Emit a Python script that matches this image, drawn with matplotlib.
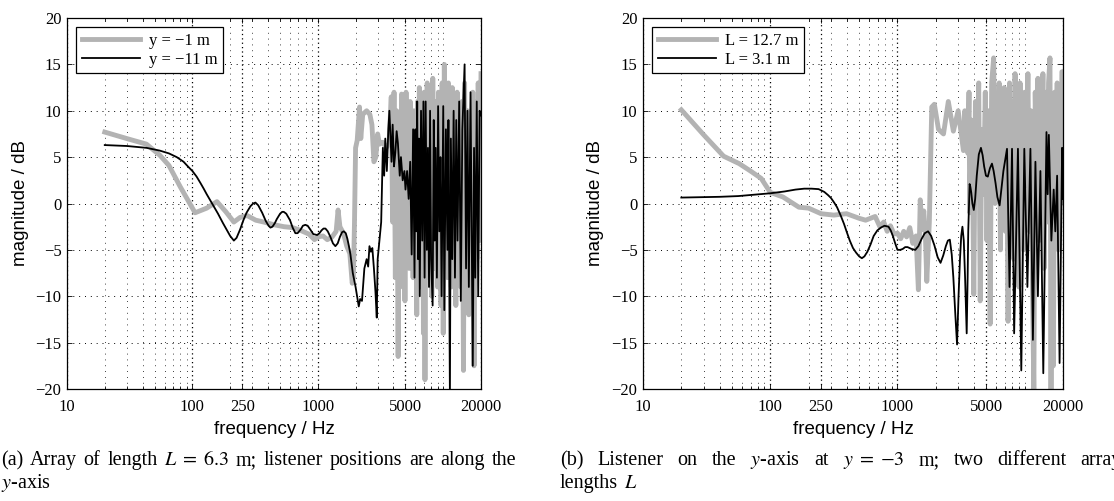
import numpy as np
import matplotlib.pyplot as plt
from matplotlib.ticker import FixedLocator, FixedFormatter, NullFormatter

plt.rcParams['font.family'] = ['Liberation Serif', 'DejaVu Serif']
plt.rcParams['mathtext.fontset'] = 'stix'

# (a) array L = 6.3 m, listener at y = -1 m (grey) and y = -11 m (black)
f_a1 = [20, 30, 43, 55, 65, 80, 105, 130, 157, 185, 214, 240, 273, 320, 371, 450, 537, 630, 728, 850,
        940, 1000, 1100, 1190, 1300, 1400, 1450, 1500, 1600, 1700, 1800, 1880, 1920, 1960, 2000, 2060,
        2150, 2200, 2280, 2450, 2600, 2700, 2800, 2900, 3000, 3100, 3300, 3500, 3700,
        3850, 3950, 4050, 4150, 4250, 4370, 4450, 4550, 4650, 4750, 4850, 4950, 5050, 5150, 5250, 5350,
        5450, 5550, 5650, 5750, 5850, 5950, 6050, 6150, 6250, 6350, 6450, 6550, 6650, 6750, 6850, 6950,
        7050, 7150, 7250, 7350, 7450, 7550, 7650, 7800, 7950, 8100, 8250, 8400, 8550, 8700, 8850, 9000,
        9150, 9300, 9450, 9600, 9800, 10000, 10200, 10400, 10600, 10800, 11000, 11200, 11400, 11600,
        11800, 12000, 12300, 12600, 12900, 13200, 13500, 13800, 14100, 14500, 14800, 15200, 15600,
        16000, 16400, 16800, 17200, 17600, 18000, 18500, 19000, 19500, 20000]
m_a1 = [7.7, 7.0, 6.4, 5.2, 4.1, 1.8, -1.0, -0.5, 0.2, -0.9, -2.0, -1.5, -1.3, -1.8, -2.0, -2.3, -2.5, -2.6,
        -2.9, -3.3, -3.9, -3.6, -3.5, -3.9, -3.6, -3.0, -0.7, -2.5, -3.2, -4.6, -5.4, -8.6, -8.0, -2.1,
        6.0, 6.8, 10.4, 7.0, 9.6, 10.0, 9.6, 8.5, 4.5, 5.0, 7.5, 6.4, 6.6, 6.0, 6.5,
        11.5, -2, 12, -8, 10, -16.5, 8, -6, 11.8, -9, 9, -10.5, 12, -4, 7, -7,
        11, -5, 8, -8, 10, -3, 6, -12, 11, -7, 12.5, -9, 9, -4, 10, -14,
        12, -19, 8, -6, 13, -8, 9, -5, 12, -10, 13.5, -7, 11, -3, 10, -9,
        12, -6, 8, -11, 13, -14, 15, -5, 11, -8, 13, -4, 10, -9,
        12.5, -6, 9, -11, 12, -5, 8, -9, 11, -18, 13, -8, 10,
        -12, 9, -7, 12, -17.5, 11, -6, 13, -4, 14]

f_a2 = [20, 30, 43, 55, 65, 75, 85, 92, 100, 108, 116, 123, 130, 138, 148, 160, 175, 189, 200, 214, 225,
        240, 255, 270, 290, 305, 318, 335, 360, 385, 405, 419, 435, 455, 470, 500, 520, 535, 560, 600,
        630, 662, 690, 730, 760, 795, 830, 870, 920, 988, 1030, 1070, 1110, 1150, 1200, 1260, 1320,
        1380, 1440, 1500, 1560, 1610, 1670, 1720, 1770, 1820, 1900, 2000,
        2120, 2175, 2250, 2350, 2450, 2520, 2580, 2650, 2720, 2800, 2880, 2950, 3000, 3100, 3200, 3300,
        3380, 3450, 3550, 3650, 3720, 3800, 3870, 3950, 4050, 4150, 4250, 4350, 4500, 4600, 4750, 4900,
        5000, 5150, 5300, 5450, 5600, 5750,
        5900, 6000, 6100, 6200, 6300, 6400, 6500, 6650, 6800, 6950, 7100, 7240, 7400, 7550, 7700, 7850,
        8000, 8230, 8400, 8550, 8700, 8900, 9100, 9300, 9500, 9700, 10000, 10200, 10500, 10800, 11000,
        11300, 11500, 11800, 12100, 12400, 12700, 13000, 13400, 13800, 14200, 14800, 15200, 15600,
        16000, 16500, 17200, 17600, 18000, 18500, 19000, 19500, 20000]
m_a2 = [6.3, 6.2, 6.0, 5.7, 5.4, 5.0, 4.5, 4.0, 3.5, 2.9, 2.2, 1.6, 1.0, 0.4, -0.3, -1.1, -2.1, -2.9,
        -3.5, -4.0, -3.7, -2.8, -1.8, -1.0, -0.3, 0.0, 0.1, -0.2, -1.0, -1.9, -2.4, -2.6, -2.5, -2.1,
        -1.7, -1.1, -0.9, -0.9, -1.1, -1.8, -2.6, -3.2, -3.2, -2.8, -2.4, -2.3, -2.4, -2.8, -3.3, -3.4,
        -3.2, -2.9, -2.7, -2.7, -3.0, -3.6, -4.3, -4.6, -4.3, -3.6, -3.1, -3.0, -3.2, -3.8, -4.6, -5.5,
        -7.5, -9.0,
        -11.1, -10.3, -10.5, -7, -6, -6.8, -4.6, -5.2, -4.8, -7, -9.5, -12.3, -6, -4,
        -2, 6, 3, 7, 3.5, 8, 10, 7, 4.5, 8.5, 4, 5.5, 7.8, 6.5, 3, 5, 2.5, 3.5, 1.5, 3.5, 0.5, 4.5, -5.5,
        8,
        -8, 8, -3, 11, -6, 7, -10, 10, -4, 11, -8, 11, -5, 6, -9, 10,
        -6, -11, 9, -4, 6, -8, 10.5, -3, 5, -10, 10.5, -11.5, 8, -5, 9,
        -21, 7, -6, 10, -8, 9, -4, 11, -10.5, 8, 15, -7, 10,
        -9, 12, -17.5, 6, -8, 11, -10, 10, 9.5]

# (b) listener at y = -3 m, L = 12.7 m (grey) and L = 3.1 m (black)
f_b1 = [20, 30, 43, 57, 70, 85, 100, 126, 168, 200, 251, 316, 398, 501, 562, 668, 727, 780, 830, 880,
        940, 1000, 1060, 1120, 1180, 1250, 1320, 1400, 1460, 1510, 1560, 1610, 1660, 1700, 1780, 1860,
        1950, 2100, 2300, 2510, 2750, 3000, 3300, 3380, 3580,
        3650, 3700, 3800, 3900, 3980, 4100, 4200, 4350, 4470, 4600, 4750, 4900, 5050, 5200, 5350, 5500,
        5700, 5850, 6000, 6150, 6300, 6450, 6600, 6750, 6900, 7050, 7200, 7400, 7600, 7800, 8000, 8200,
        8400, 8600, 8800, 9000, 9200, 9400, 9600, 9800, 10000, 10300, 10600, 10900, 11200, 11500,
        11800, 12100, 12400, 12700, 13000, 13300, 13600, 13900, 14200, 14500, 14800, 15100, 15400,
        15800, 16100, 16400, 16800, 17200, 17600, 18000, 18400, 18800, 19200, 19600, 20000]
m_b1 = [10.1, 7.4, 5.1, 4.3, 3.5, 2.7, 1.2, 0.7, -0.4, -0.5, -1.1, -1.25, -1.1, -1.6, -1.8, -1.4, -2.5,
        -2.0, -3.0, -2.4, -3.3, -3.2, -3.8, -3.0, -3.6, -2.6, -4.3, -3.5, -9.3, 0.4, -2.8, -0.8, -3.6,
        -8.4, -2.0, 10.4, 10.7, 8.0, 7.5, 11.0, 7.8, 10.0, 5.7, 10.0, 5.4,
        12, -1, 9, 2, -9.8, 11, 3, 13, -10.5, 8, 1, 12, -4, 10, -13, 13,
        15.7, 0, 11, 4, 13, -5, 10, 2, 12.5, -3, 9, -12.7, 13, 3, 11, -6,
        14, 1, 10, -9, 13, 4, 11, -5, 12, 2, 14, -3, 10, -8,
        -20.5, 12, 3, 13.5, -4, 11, 1, 14, -7, 9, 12, -2, 13,
        15.7, -20.5, 10, -17.5, 12, 2, 13, -5, 10, 0, 14.2, 14.2]

f_b2 = [20, 40, 56, 100, 130, 158, 185, 211, 240, 266, 285, 300, 318, 335, 358, 380, 400, 422, 447, 473,
        500, 525, 550, 580, 615, 650, 695, 740, 790, 850, 885, 920, 960, 1000, 1050, 1100, 1150, 1200,
        1290, 1380, 1460, 1550, 1640, 1740, 1840, 1950, 2070, 2180, 2290, 2400, 2490, 2580, 2670, 2750,
        2850, 2940, 3020, 3100, 3170, 3240, 3320, 3400, 3500, 3560, 3600, 3690, 3740, 3800, 3880, 3980,
        4080, 4200, 4360, 4530, 4670, 4800, 4960, 5130, 5330, 5530, 5700, 5900, 6100, 6350, 6800, 7260,
        7600, 7950, 8260, 8850, 9400, 9930, 10500, 11090, 11600, 12140, 12700, 13290, 14000, 14830,
        15150, 15480, 16200, 16900, 17400, 17980, 18800, 19680, 20000]
m_b2 = [0.64, 0.72, 0.8, 1.1, 1.3, 1.5, 1.6, 1.6, 1.55, 1.25, 0.9, 0.6, 0.1, -0.4, -1.3, -2.2, -3.1,
        -4.0, -4.8, -5.3, -5.7, -5.9, -5.7, -5.2, -4.4, -3.5, -2.9, -2.6, -2.4, -2.5, -2.9, -3.5, -4.3,
        -5.0, -5.0, -4.9, -4.7, -4.7, -4.9, -5.0, -4.6, -3.8, -3.2, -3.0, -3.5, -4.5, -5.8, -6.4, -5.6,
        -4.6, -4.0, -3.9, -5.5, -8, -12, -15.2, -10, -6, -3.5, -2.5, -4, -8, -14, -8, -3, 2.1, 1.8, 1.2,
        0, -0.7, 0.5, 3.0, 5.3, 6.0, 5.2, 4.0, 3.0, 2.9, 3.8, 4.3, 3.5, 2.2, 0.7, -0.2, 3.5, 5.9,
        -9, 5.9, -14, 5.9, -18, 5.9, -9, 5.9, -14.7, 4.5, -10, 3.5, -18.3, 7.7,
        1, 7.4, -4, 1.5, -3, 3, -17.2, 6, 0.5]

xticks = [10, 100, 250, 1000, 5000, 20000]
xticklabels = ['10', '100', '250', '1000', '5000', '20000']
yticks = [-20, -15, -10, -5, 0, 5, 10, 15, 20]
minor_grid = [20, 30, 40, 50, 60, 70, 80, 90, 200, 300, 400, 500, 600, 700, 800, 900,
              2000, 3000, 4000, 6000, 7000, 8000, 9000, 10000]

grey = '#b3b3b3'
W, H = 1114, 501
fig = plt.figure(figsize=(W / 100, H / 100), dpi=100)
ax_a = fig.add_axes([67 / W, 1 - 389 / H, 414 / W, 371 / H])
ax_b = fig.add_axes([643 / W, 1 - 389 / H, 420 / W, 371 / H])


def panel(ax, f1, m1, lab1, f2, m2, lab2):
    ax.semilogx(f1, m1, color=grey, lw=3.5, label=lab1)
    ax.semilogx(f2, m2, color='black', lw=1.3, label=lab2)
    ax.set_xlim(10, 20000)
    ax.set_ylim(-20, 20)
    ax.xaxis.set_major_locator(FixedLocator(xticks))
    ax.xaxis.set_major_formatter(FixedFormatter(xticklabels))
    ax.xaxis.set_minor_locator(FixedLocator(minor_grid))
    ax.xaxis.set_minor_formatter(NullFormatter())
    ax.set_yticks(yticks)
    ax.tick_params(which='both', direction='in', top=True, right=True, labelsize=12, width=0.6)
    ax.tick_params(which='major', length=3.5)
    ax.tick_params(which='minor', length=2)
    ax.tick_params(axis='x', pad=7)
    ax.tick_params(axis='y', pad=4)
    ax.grid(True, which='major', axis='y', color='black', lw=0.7, linestyle=(0, (1, 5)))
    ax.grid(True, which='major', axis='x', color='black', lw=0.9, linestyle=(0, (1, 2.5)))
    ax.grid(True, which='minor', axis='x', color='black', lw=0.6, linestyle=(0, (1, 6)))
    for s in ax.spines.values():
        s.set_linewidth(0.9)
    ax.set_xlabel('frequency / Hz', family='Liberation Sans', fontsize=13.5)
    ax.set_ylabel('magnitude / dB', family='Liberation Sans', fontsize=13.5)
    ax.xaxis.set_label_coords(0.5, -0.085)
    ax.yaxis.set_label_coords(-38 / 414, 0.5)
    leg = ax.legend(loc='upper left', fontsize=12, handlelength=3.5, handletextpad=0.5,
                    labelspacing=0.15, borderpad=0.35, borderaxespad=0.55, fancybox=False,
                    framealpha=1, edgecolor='black')
    leg.get_frame().set_linewidth(0.9)


panel(ax_a, f_a1, m_a1, 'y = −1 m', f_a2, m_a2, 'y = −11 m')
panel(ax_b, f_b1, m_b1, 'L = 12.7 m', f_b2, m_b2, 'L = 3.1 m')

# sub-figure captions, justified like the LaTeX source
cap_a1 = ['(a)', 'Array', 'of', 'length', r'$L\;=\;6.3$', 'm;', 'listener', 'positions', 'are', 'along', 'the']
cap_a2 = ['$y$-axis']
cap_b1 = ['(b)', 'Listener', 'on', 'the', '$y$-axis', 'at', r'$y\;=\;{-}3$', 'm;', 'two', 'different', 'array']
cap_b2 = ['lengths', '$L$']


def caption_line(words, x0, x1, y, justify=True, size=14.5):
    texts = [fig.text(0, 1 - y / H, w, fontsize=size, ha='left', va='baseline') for w in words]
    fig.canvas.draw()
    r = fig.canvas.get_renderer()
    widths = [t.get_window_extent(r).width for t in texts]
    if justify and len(words) > 1:
        gap = (x1 - x0 - sum(widths)) / (len(words) - 1)
    else:
        gap = 0.28 * size * 100 / 72
    x = x0
    for t, w in zip(texts, widths):
        t.set_x(x / W)
        x += w + gap


caption_line(cap_a1, 1, 516, 465)
caption_line(cap_a2, 1, 516, 488, justify=False)
caption_line(cap_b1, 560, 1122, 465)
caption_line(cap_b2, 560, 1114, 488, justify=False)

fig.savefig('out.png', dpi=100)
